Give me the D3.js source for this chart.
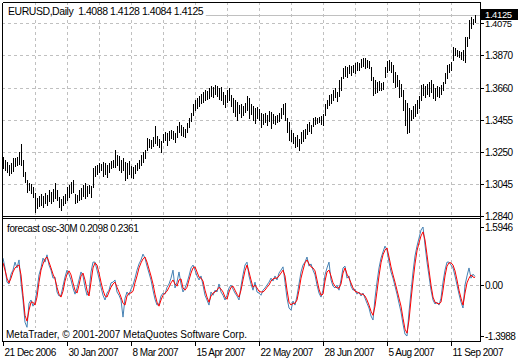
<!DOCTYPE html>
<html><head><meta charset="utf-8">
<script src="https://cdn.jsdelivr.net/npm/d3@7"></script>
<style>
html,body{margin:0;padding:0;background:#fff;}
svg{display:block;}
text{font-family:"Liberation Sans",Arial,sans-serif;}
</style></head><body>
<svg id="c" width="520" height="360"></svg>
<script>
const symbol = "EURUSD,Daily";
const lastOHLC = [1.4088, 1.4128, 1.4084, 1.4125];
const highs = [
1.3217,1.3198,1.3185,1.3166,1.3179,1.3211,1.3211,1.3217,1.3249,1.3300,
1.3198,1.3121,1.3070,1.3051,1.3044,1.3025,1.2987,1.2955,1.2968,1.2980,
1.2968,1.2987,1.2974,1.3006,1.2993,1.3012,1.3051,1.3006,1.2961,1.2948,
1.2968,1.2980,1.3025,1.3038,1.3057,1.3070,1.2980,1.2974,1.3006,1.3019,
1.3038,1.3051,1.3032,1.3038,1.3032,1.3147,1.3160,1.3166,1.3179,1.3172,
1.3185,1.3179,1.3166,1.3179,1.3192,1.3198,1.3262,1.3230,1.3224,1.3198,
1.3211,1.3185,1.3179,1.3192,1.3160,1.3153,1.3166,1.3179,1.3198,1.3230,
1.3249,1.3262,1.3339,1.3332,1.3326,1.3345,1.3416,1.3352,1.3332,1.3320,
1.3364,1.3377,1.3371,1.3384,1.3390,1.3384,1.3371,1.3416,1.3441,1.3422,
1.3409,1.3396,1.3435,1.3467,1.3499,1.3556,1.3582,1.3595,1.3608,1.3620,
1.3633,1.3646,1.3640,1.3659,1.3672,1.3665,1.3678,1.3672,1.3659,1.3665,
1.3633,1.3614,1.3646,1.3659,1.3614,1.3595,1.3582,1.3569,1.3550,1.3556,
1.3544,1.3563,1.3608,1.3595,1.3556,1.3544,1.3531,1.3537,1.3524,1.3499,
1.3492,1.3499,1.3486,1.3512,1.3505,1.3492,1.3480,1.3486,1.3499,1.3531,
1.3556,1.3563,1.3467,1.3441,1.3390,1.3371,1.3345,1.3358,1.3332,1.3377,
1.3390,1.3396,1.3428,1.3441,1.3422,1.3467,1.3473,1.3467,1.3473,1.3480,
1.3492,1.3556,1.3582,1.3614,1.3620,1.3646,1.3659,1.3633,1.3710,1.3729,
1.3787,1.3800,1.3793,1.3806,1.3800,1.3806,1.3819,1.3825,1.3819,1.3844,
1.3851,1.3851,1.3838,1.3832,1.3793,1.3729,1.3710,1.3697,1.3704,1.3691,
1.3697,1.3793,1.3832,1.3838,1.3825,1.3806,1.3761,1.3742,1.3710,1.3684,
1.3646,1.3582,1.3563,1.3531,1.3518,1.3544,1.3556,1.3582,1.3608,1.3678,
1.3684,1.3672,1.3684,1.3697,1.3710,1.3684,1.3659,1.3672,1.3665,1.3678,
1.3697,1.3755,1.3806,1.3812,1.3825,1.3921,1.3915,1.3902,1.3896,1.3889,
1.3902,1.3985,1.3985,1.4094,1.4113,1.4100,1.4128];
const lows = [
1.3147,1.3134,1.3121,1.3102,1.3115,1.3128,1.3160,1.3166,1.3172,1.3166,
1.3096,1.3057,1.2993,1.3006,1.2987,1.2961,1.2865,1.2891,1.2904,1.2910,
1.2897,1.2923,1.2910,1.2936,1.2923,1.2936,1.2955,1.2942,1.2897,1.2878,
1.2910,1.2923,1.2942,1.2961,1.2987,1.2993,1.2923,1.2929,1.2942,1.2948,
1.2968,1.2955,1.2968,1.2987,1.2961,1.3025,1.3096,1.3108,1.3121,1.3134,
1.3096,1.3108,1.3089,1.3121,1.3147,1.3153,1.3153,1.3166,1.3134,1.3121,
1.3134,1.3070,1.3083,1.3108,1.3089,1.3083,1.3115,1.3134,1.3147,1.3166,
1.3185,1.3211,1.3262,1.3281,1.3275,1.3288,1.3307,1.3294,1.3281,1.3249,
1.3313,1.3326,1.3294,1.3326,1.3339,1.3332,1.3313,1.3345,1.3377,1.3358,
1.3352,1.3345,1.3377,1.3409,1.3448,1.3486,1.3518,1.3531,1.3544,1.3563,
1.3569,1.3582,1.3588,1.3595,1.3608,1.3601,1.3620,1.3608,1.3588,1.3582,
1.3556,1.3537,1.3569,1.3582,1.3544,1.3505,1.3480,1.3454,1.3499,1.3473,
1.3486,1.3505,1.3518,1.3467,1.3492,1.3454,1.3435,1.3467,1.3454,1.3409,
1.3428,1.3441,1.3422,1.3448,1.3403,1.3435,1.3428,1.3441,1.3448,1.3467,
1.3492,1.3454,1.3377,1.3326,1.3320,1.3307,1.3281,1.3288,1.3262,1.3307,
1.3320,1.3339,1.3364,1.3384,1.3371,1.3416,1.3428,1.3435,1.3441,1.3428,
1.3422,1.3486,1.3531,1.3550,1.3563,1.3582,1.3601,1.3576,1.3608,1.3646,
1.3723,1.3736,1.3729,1.3755,1.3742,1.3761,1.3755,1.3774,1.3774,1.3793,
1.3800,1.3787,1.3793,1.3787,1.3710,1.3614,1.3627,1.3633,1.3646,1.3646,
1.3652,1.3729,1.3761,1.3774,1.3761,1.3697,1.3665,1.3672,1.3601,1.3608,
1.3518,1.3422,1.3371,1.3377,1.3454,1.3467,1.3480,1.3499,1.3531,1.3582,
1.3614,1.3601,1.3620,1.3608,1.3633,1.3595,1.3582,1.3608,1.3601,1.3620,
1.3646,1.3691,1.3723,1.3761,1.3774,1.3838,1.3870,1.3864,1.3857,1.3844,
1.3838,1.3825,1.3928,1.3979,1.4043,1.4068,1.4084];
const oscRed = [
0.61,0.41,0.19,0.06,0.19,0.36,0.47,0.52,0.55,0.28,
-0.28,-0.83,-0.99,-0.69,-0.47,-0.47,-0.55,-0.33,0.08,0.41,
0.58,0.72,0.77,0.63,0.47,0.30,0.17,-0.06,-0.25,-0.33,
-0.17,0.11,0.30,0.39,0.28,0.06,-0.14,-0.22,0.00,0.25,
0.33,0.14,-0.14,-0.30,0.08,0.47,0.61,0.55,0.33,0.08,
-0.14,-0.30,-0.33,-0.19,-0.06,0.03,0.08,-0.06,-0.19,-0.33,
-0.50,-0.55,-0.30,-0.22,-0.22,-0.17,0.06,0.25,0.47,0.61,
0.72,0.77,0.63,0.44,0.25,0.03,-0.25,-0.47,-0.58,-0.41,
-0.28,-0.22,-0.17,-0.06,0.06,0.14,0.03,-0.03,0.14,0.17,
-0.08,-0.14,-0.06,0.14,0.33,0.47,0.50,0.36,0.22,0.19,
0.11,-0.14,-0.33,-0.47,-0.30,-0.22,-0.19,-0.14,-0.06,-0.11,
-0.19,-0.33,-0.39,-0.19,-0.06,-0.03,-0.14,-0.25,-0.33,-0.14,
0.14,0.39,0.55,0.36,0.14,-0.06,0.00,-0.08,-0.17,-0.19,
-0.19,-0.14,-0.06,0.00,0.11,0.17,0.19,0.19,0.25,0.33,
0.41,0.25,-0.14,-0.47,-0.55,-0.50,-0.50,-0.41,-0.14,0.19,
0.41,0.61,0.69,0.58,0.50,0.47,0.39,0.14,-0.11,-0.28,
-0.25,0.11,0.36,0.41,0.25,0.06,-0.03,-0.08,-0.08,0.03,
0.33,0.47,0.30,0.19,0.06,-0.08,-0.17,-0.19,-0.22,-0.25,
-0.25,-0.30,-0.41,-0.55,-0.72,-0.83,-0.58,-0.17,0.25,0.61,
0.83,0.96,1.02,0.77,0.50,0.28,0.08,-0.14,-0.36,-0.58,
-0.91,-1.21,-1.32,-0.96,-0.41,0.11,0.58,0.94,1.16,1.35,
1.46,1.24,0.83,0.41,0.00,-0.33,-0.47,-0.50,-0.52,-0.47,
-0.14,0.25,0.52,0.61,0.61,0.55,0.39,0.14,-0.14,-0.36,
-0.55,-0.22,0.06,0.19,0.28,0.22,0.2098];
const oscBlue = [
0.74,0.47,0.08,0.03,0.30,0.41,0.63,0.47,0.69,0.06,
-0.41,-1.02,-1.16,-0.50,-0.41,-0.58,-0.47,-0.14,0.28,0.47,
0.74,0.63,0.83,0.55,0.41,0.19,0.22,-0.19,-0.30,-0.28,
-0.03,0.22,0.41,0.30,0.14,-0.08,-0.25,-0.08,0.14,0.36,
0.25,-0.06,-0.28,-0.19,0.36,0.63,0.63,0.41,0.19,-0.06,
-0.28,-0.41,-0.22,-0.14,0.06,0.08,0.14,-0.19,-0.28,-0.41,
-0.88,-0.36,-0.19,-0.28,-0.11,0.00,0.19,0.41,0.58,0.69,
0.85,0.74,0.52,0.33,0.14,-0.14,-0.39,-0.55,-0.52,-0.30,
-0.22,-0.25,-0.06,0.03,0.19,0.41,-0.08,0.08,0.36,0.03,
-0.19,-0.08,0.06,0.25,0.47,0.55,0.41,0.25,0.14,0.25,
0.00,-0.28,-0.41,-0.55,-0.19,-0.28,-0.14,-0.19,0.03,-0.19,
-0.28,-0.41,-0.28,-0.08,0.00,-0.11,-0.22,-0.30,-0.41,-0.03,
0.28,0.55,0.63,0.25,0.03,-0.14,0.08,-0.19,-0.22,-0.28,
-0.14,-0.08,0.00,0.08,0.19,0.11,0.25,0.14,0.33,0.41,
0.50,0.08,-0.36,-0.63,-0.69,-0.44,-0.55,-0.30,0.03,0.36,
0.55,0.63,0.77,0.52,0.58,0.41,0.28,0.00,-0.22,-0.33,
-0.14,0.28,0.47,0.63,0.14,-0.03,-0.08,0.00,-0.14,0.14,
0.47,0.52,0.19,0.25,-0.03,-0.14,-0.11,-0.25,-0.19,-0.30,
-0.22,-0.36,-0.50,-0.63,-0.85,-0.96,-0.36,0.08,0.47,0.74,
0.91,1.07,0.96,0.63,0.36,0.19,-0.03,-0.25,-0.50,-0.74,
-1.07,-1.35,-1.3988,-0.74,-0.19,0.36,0.80,1.07,1.29,1.51,
1.5946,1.10,0.63,0.25,-0.14,-0.41,-0.52,-0.47,-0.55,-0.36,
0.08,0.41,0.63,0.63,0.55,0.47,0.25,0.00,-0.25,-0.47,
-0.63,0.00,0.25,0.47,0.19,0.30,0.2361];
const priceTicks = [1.4075, 1.3870, 1.3660, 1.3455, 1.3250, 1.3045, 1.2840];
const oscTicks = [1.5946, 0.00, -1.3988];
const dateLabels = ["21 Dec 2006","30 Jan 2007","8 Mar 2007","15 Apr 2007","22 May 2007","28 Jun 2007","5 Aug 2007","11 Sep 2007"];
const dateLabelBars = [0, 32, 64, 96, 128, 160, 192, 224];
const oscName = "forecast osc-30M";
const oscLast = [0.2098, 0.2361];
const copyright = "MetaTrader, \u00A9 2001-2007 MetaQuotes Software Corp.";

const N = highs.length;
const svg = d3.select("#c");
const L = 2, R = 480, mainTop = 2, mainBot = 216, oscTop = 218, oscBot = 341;
const FONT = '"Liberation Sans", Arial, sans-serif';
const GRID = "#c0c0c0";
const px = v => Math.round(v) + 0.5;

const x = d3.scaleLinear().domain([0, N - 1]).range([3, 3 + 2 * (N - 1)]);
const yMain = d3.scaleLinear().domain([priceTicks[priceTicks.length - 1], priceTicks[0]]).range([216, 23]);
const yOsc = d3.scaleLinear().domain([oscTicks[2], oscTicks[0]]).range([336, 227]);

svg.append("rect").attr("width", 520).attr("height", 360).attr("fill", "#fff");

const defs = svg.append("defs");
defs.append("clipPath").attr("id", "clipMain").append("rect")
  .attr("x", L + 1).attr("y", mainTop + 1).attr("width", R - L - 1).attr("height", mainBot - mainTop - 1);
defs.append("clipPath").attr("id", "clipOsc").append("rect")
  .attr("x", L + 1).attr("y", oscTop + 1).attr("width", R - L - 1).attr("height", oscBot - oscTop - 1);

const gMain = svg.append("g").attr("clip-path", "url(#clipMain)");
const gOsc = svg.append("g").attr("clip-path", "url(#clipOsc)");

const gridBars = d3.range(16, N, 16).filter(i => x(i) < R);

// main grid
gMain.selectAll("line.vg").data(gridBars).join("line").attr("class", "vg")
  .attr("x1", d => px(x(d))).attr("x2", d => px(x(d)))
  .attr("y1", mainTop).attr("y2", mainBot)
  .attr("stroke", GRID).attr("stroke-dasharray", "3,3").attr("shape-rendering", "crispEdges");
gMain.selectAll("line.hg").data(priceTicks).join("line").attr("class", "hg")
  .attr("x1", L).attr("x2", R)
  .attr("y1", d => px(yMain(d))).attr("y2", d => px(yMain(d)))
  .attr("stroke", GRID).attr("stroke-dasharray", "3,3").attr("shape-rendering", "crispEdges");

// current price line
gMain.append("line")
  .attr("x1", L).attr("x2", R)
  .attr("y1", px(yMain(lastOHLC[3]))).attr("y2", px(yMain(lastOHLC[3])))
  .attr("stroke", GRID).attr("shape-rendering", "crispEdges");

// header
const header = `${symbol}  ${lastOHLC.map(v => v.toFixed(4)).join(" ")}`;
const hdrBg = gMain.append("rect").attr("fill", "#fff");
const hdr = gMain.append("text").attr("x", 8).attr("y", 15)
  .attr("font-family", FONT).attr("font-size", 10.5).attr("letter-spacing", "-0.45px")
  .attr("xml:space", "preserve").style("white-space", "pre").attr("fill", "#000").text(header);
{ const b = hdr.node().getBBox(); hdrBg.attr("x", 3).attr("y", 5).attr("width", b.x + b.width - 1).attr("height", 12); }

// bars
gMain.append("g").selectAll("line").data(highs).join("line")
  .attr("x1", (d, i) => px(x(i))).attr("x2", (d, i) => px(x(i)))
  .attr("y1", d => Math.round(yMain(d)))
  .attr("y2", (d, i) => Math.round(yMain(lows[i])) + 1)
  .attr("stroke", "#000").attr("stroke-width", 1).attr("shape-rendering", "crispEdges");

// osc grid
gOsc.selectAll("line.vg").data(gridBars).join("line").attr("class", "vg")
  .attr("x1", d => px(x(d))).attr("x2", d => px(x(d)))
  .attr("y1", oscTop).attr("y2", oscBot)
  .attr("stroke", GRID).attr("stroke-dasharray", "3,3").attr("shape-rendering", "crispEdges");
gOsc.append("line").attr("x1", L).attr("x2", R)
  .attr("y1", px(yOsc(0))).attr("y2", px(yOsc(0)))
  .attr("stroke", GRID).attr("stroke-dasharray", "3,3").attr("shape-rendering", "crispEdges");

// osc lines
const oscLine = d3.line().x((d, i) => x(i)).y(d => yOsc(d));
gOsc.append("path").datum(oscBlue).attr("d", oscLine)
  .attr("fill", "none").attr("stroke", "#4682b4").attr("stroke-width", 1);
gOsc.append("path").datum(oscRed).attr("d", oscLine)
  .attr("fill", "none").attr("stroke", "#ff0000").attr("stroke-width", 1);

// osc label & copyright with backgrounds
const oscLbl = `${oscName} ${oscLast[0].toFixed(4)} ${oscLast[1].toFixed(4)}`;
const olBg = gOsc.append("rect").attr("fill", "#fff");
const ol = gOsc.append("text").attr("x", 7).attr("y", 232)
  .attr("font-family", FONT).attr("font-size", 10).attr("letter-spacing", "-0.4px")
  .attr("fill", "#000").text(oscLbl);
{ const b = ol.node().getBBox(); olBg.attr("x", 3).attr("y", 221).attr("width", b.x + b.width - 1).attr("height", 13); }
const cpBg = gOsc.append("rect").attr("fill", "#fff");
const cp = gOsc.append("text").attr("x", 6).attr("y", 338)
  .attr("font-family", FONT).attr("font-size", 10)
  .attr("fill", "#000").text(copyright);
{ const b = cp.node().getBBox(); cpBg.attr("x", 3).attr("y", 328).attr("width", b.x + b.width - 1).attr("height", 13); }

// borders
const border = d3.path();
border.moveTo(L + 0.5, mainTop + 0.5); border.lineTo(R + 0.5, mainTop + 0.5);
border.lineTo(R + 0.5, oscBot + 0.5); border.lineTo(L + 0.5, oscBot + 0.5);
border.lineTo(L + 0.5, mainTop + 0.5);
border.moveTo(L, mainBot + 0.5); border.lineTo(R + 1, mainBot + 0.5);
border.moveTo(L, oscTop + 0.5); border.lineTo(R + 1, oscTop + 0.5);
svg.append("path").attr("d", border.toString()).attr("fill", "none")
  .attr("stroke", "#000").attr("shape-rendering", "crispEdges");

// right axes
const styleAxis = g => {
  g.select(".domain").remove();
  g.attr("font-family", FONT).attr("font-size", 10);
  g.selectAll(".tick line").attr("stroke", "#000").attr("shape-rendering", "crispEdges");
  g.selectAll(".tick text").attr("fill", "#000").attr("letter-spacing", "-0.5px");
};
const axMain = d3.axisRight(yMain).tickValues(priceTicks.slice(1)).tickSize(4).tickPadding(1)
  .tickFormat(d => d.toFixed(4));
svg.append("g").attr("transform", `translate(${R},0)`).call(axMain).call(styleAxis);

// top price tick: partly hidden behind the current-price box, as in the reference
const yTop = Math.round(yMain(priceTicks[0]));
svg.append("line").attr("x1", R).attr("x2", R + 4).attr("y1", yTop + 0.5).attr("y2", yTop + 0.5)
  .attr("stroke", "#000").attr("shape-rendering", "crispEdges");
svg.append("text").attr("x", R + 5).attr("y", yTop + 4).attr("font-family", FONT).attr("font-size", 9.5)
  .attr("letter-spacing", "-0.4px").attr("fill", "#000").text(priceTicks[0].toFixed(4));

const axOsc = d3.axisRight(yOsc).tickValues(oscTicks).tickSize(4).tickPadding(1)
  .tickFormat(d => d === 0 ? "0.00" : d.toFixed(4));
svg.append("g").attr("transform", `translate(${R},0)`).call(axOsc).call(styleAxis);

// current price label
const yc = Math.round(yMain(lastOHLC[3]));
svg.append("rect").attr("x", R + 1).attr("y", yc - 6).attr("width", 37).attr("height", 11).attr("fill", "#000");
svg.append("text").attr("x", R + 5).attr("y", yc + 3).attr("font-family", FONT).attr("font-size", 9.5)
  .attr("letter-spacing", "-0.4px").attr("fill", "#fff").text(lastOHLC[3].toFixed(4));

// bottom axis
const axX = d3.axisBottom(x).tickValues(dateLabelBars).tickSize(5).tickPadding(3)
  .tickFormat((d, i) => dateLabels[i]);
const gX = svg.append("g").attr("transform", `translate(0,${oscBot})`).call(axX);
gX.select(".domain").remove();
gX.attr("font-family", FONT).attr("font-size", 10);
gX.selectAll(".tick line").attr("stroke", "#000").attr("shape-rendering", "crispEdges");
gX.selectAll(".tick text").attr("fill", "#000").attr("text-anchor", "start").attr("x", 1)
  .attr("letter-spacing", "-0.5px");
</script>
</body></html>
